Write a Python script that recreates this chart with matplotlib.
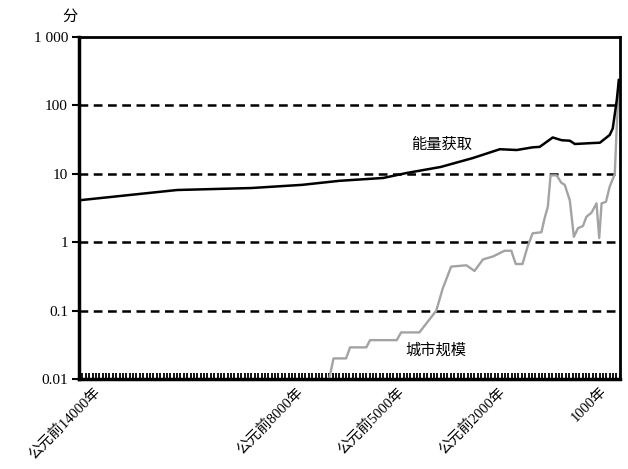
import matplotlib.pyplot as plt
import matplotlib.transforms as mtransforms
import numpy as np

# energy capture (black)
energy_years = [-14000, -11100, -8900, -7400, -6300, -5000, -4300, -3300, -2350, -1550,
                -1050, -580, -370, 15, 280, 520, 670, 1200, 1410, 1700, 1790, 1910, 1970]
energy_vals = [4.1, 5.8, 6.2, 6.9, 7.9, 8.7, 10.3, 12.6, 17, 22.9,
               22.3, 24.4, 24.8, 34, 31, 30.5, 27.3, 28.2, 28.5, 37, 46, 120, 235]

# urban size (grey)
city_years = [-6600, -6470, -6100, -5980, -5500, -5390, -4600, -4470, -3930, -3430,
              -3240, -2990, -2540, -2300, -2050, -1750, -1410, -1210, -1080, -880,
              -730, -580, -320, -220, -130, -50, 130, 270, 370, 520, 640, 760,
              910, 1010, 1160, 1310, 1390, 1460, 1590, 1700, 1850, 1900, 1975]
city_vals = [0.01, 0.02, 0.02, 0.029, 0.029, 0.037, 0.037, 0.048, 0.048, 0.1,
             0.21, 0.44, 0.46, 0.38, 0.56, 0.62, 0.75, 0.75, 0.48, 0.48,
             0.86, 1.35, 1.4, 2.3, 3.3, 9.5, 9.5, 7.4, 6.9, 4.1, 1.2, 1.6,
             1.73, 2.35, 2.7, 3.7, 1.15, 3.7, 3.9, 6.5, 9.9, 39, 236]

y_ticks = [0.01, 0.1, 1, 10, 100, 1000]
y_labels = ['0.01', '0.1', '1', '10', '100', '1 000']
x_ticks = [-14000, -8000, -5000, -2000, 1000]
x_labels = ['公元前14000年', '公元前8000年', '公元前5000年', '公元前2000年', '1000年']

fam = ['Liberation Serif', 'Noto Sans CJK SC']
plt.rcParams['font.family'] = fam

fig = plt.figure(figsize=(6.28, 4.69), dpi=100)
ax = fig.add_axes([0.1258, 0.1919, 0.8612, 0.7291])

for y in [0.1, 1, 10, 100]:
    ax.axhline(y, color='black', lw=1.8, ls=(0, (3.5, 2.2)), zorder=1)

ax.plot(energy_years, energy_vals, color='black', lw=1.8, zorder=3)
ax.plot(city_years, city_vals, color='#a3a3a3', lw=1.7, zorder=2)

ax.set_yscale('log')
ax.set_ylim(0.01, 1000)
ax.set_xlim(-14000, 2000)
ax.set_yticks(y_ticks)
ax.set_yticklabels(y_labels, fontsize=11)
ax.minorticks_off()
ax.tick_params(axis='y', direction='out', length=5, width=1.5, pad=3)

ax.set_xticks(x_ticks)
ax.set_xticks(np.arange(-14000, 2001, 100), minor=True)
ax.tick_params(axis='x', which='minor', direction='in', length=4, width=1.3)
ax.tick_params(axis='x', which='major', direction='in', length=4, width=1.3, pad=2)
labs = ax.set_xticklabels(x_labels, rotation=45, ha='right', rotation_mode='anchor', fontsize=10.5)
offset = mtransforms.ScaledTranslation(0.14, -0.03, fig.dpi_scale_trans)
for t in labs:
    t.set_transform(t.get_transform() + offset)

ax.spines['left'].set_linewidth(2.5)
ax.spines['bottom'].set_linewidth(2.5)
ax.spines['top'].set_linewidth(2)
ax.spines['right'].set_linewidth(2)

fig.text(442 / 628, 1 - 145 / 469, '能量获取', fontsize=11, ha='center', va='center')
fig.text(436 / 628, 1 - 350 / 469, '城市规模', fontsize=11, ha='center', va='center')
fig.text(70 / 628, 1 - 17 / 469, '分', fontsize=11, ha='center', va='center')

fig.savefig('out.png', dpi=100)
